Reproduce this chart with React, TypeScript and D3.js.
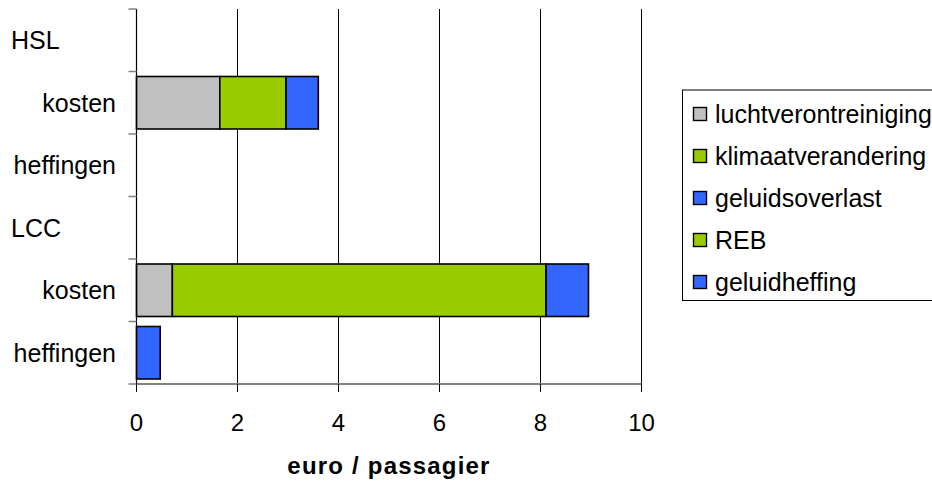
import React, { useEffect, useRef } from "react";
import * as d3 from "d3";

const rowLabels = ["HSL", "kosten", "heffingen", "LCC", "kosten", "heffingen"];
const rowIsGroup = [true, false, false, true, false, false];

const seriesNames = ["luchtverontreiniging", "klimaatverandering", "geluidsoverlast", "REB", "geluidheffing"];
const seriesColors = ["#C0C0C0", "#99CC00", "#3366FF", "#99CC00", "#3366FF"];

const luchtverontreiniging = [0, 1.65, 0, 0, 0.71, 0];
const klimaatverandering = [0, 1.31, 0, 0, 7.4, 0];
const geluidsoverlast = [0, 0.64, 0, 0, 0.84, 0];
const REB = [0, 0, 0, 0, 0, 0];
const geluidheffing = [0, 0, 0, 0, 0, 0.47];

const xTicks = [0, 2, 4, 6, 8, 10];
const xTitle = "euro / passagier";

const W = 932;
const H = 484;
const FONT = "'Liberation Sans', Arial, sans-serif";

export default function App() {
  const ref = useRef<SVGSVGElement | null>(null);

  useEffect(() => {
    const svg = d3.select(ref.current);
    svg.selectAll("*").remove();

    const left = 136.5, right = 641.5, top = 9, bottom = 384;
    const x = d3.scaleLinear().domain([0, 10]).range([left, right]);
    const rows = rowLabels.map((_, i) => i);
    const y = d3.scaleBand<number>().domain(rows).range([top, bottom]).padding(0);
    const bw = y.bandwidth();

    const table = rows.map((i) => ({
      row: i,
      luchtverontreiniging: luchtverontreiniging[i],
      klimaatverandering: klimaatverandering[i],
      geluidsoverlast: geluidsoverlast[i],
      REB: REB[i],
      geluidheffing: geluidheffing[i],
    }));
    const stacked = d3.stack<any>().keys(seriesNames)(table);

    // gridlines
    svg.append("g")
      .selectAll("line")
      .data(xTicks)
      .join("line")
      .attr("x1", (d) => x(d))
      .attr("x2", (d) => x(d))
      .attr("y1", top)
      .attr("y2", bottom + 8)
      .attr("stroke", (d) => (d === 0 ? "none" : "#000"))
      .attr("stroke-width", 1);

    // bars
    stacked.forEach((s, si) => {
      svg.append("g")
        .selectAll("rect")
        .data(s.filter((d: any) => d[1] - d[0] > 0))
        .join("rect")
        .attr("x", (d: any) => x(d[0]))
        .attr("width", (d: any) => x(d[1]) - x(d[0]))
        .attr("y", (d: any) => (y(d.data.row) as number) + bw * 0.08)
        .attr("height", bw * 0.84)
        .attr("fill", seriesColors[si])
        .attr("stroke", "#000")
        .attr("stroke-width", 1.6);
    });

    // x axis
    svg.append("line")
      .attr("x1", left).attr("x2", right)
      .attr("y1", bottom).attr("y2", bottom)
      .attr("stroke", "#808080").attr("stroke-width", 2);
    svg.append("g")
      .selectAll("line")
      .data(xTicks)
      .join("line")
      .attr("x1", (d) => x(d)).attr("x2", (d) => x(d))
      .attr("y1", bottom).attr("y2", bottom + 8)
      .attr("stroke", "#000");
    svg.append("g")
      .selectAll("text")
      .data(xTicks)
      .join("text")
      .attr("x", (d) => x(d))
      .attr("y", 431)
      .attr("text-anchor", "middle")
      .attr("font-family", FONT)
      .attr("font-size", 24)
      .text((d) => String(d));
    svg.append("text")
      .attr("x", (left + right) / 2)
      .attr("y", 474)
      .attr("text-anchor", "middle")
      .attr("font-family", FONT)
      .attr("font-size", 24)
      .attr("font-weight", "bold")
      .attr("letter-spacing", 1.2)
      .text(xTitle);

    // y axis
    svg.append("line")
      .attr("x1", left).attr("x2", left)
      .attr("y1", top).attr("y2", bottom)
      .attr("stroke", "#000").attr("stroke-width", 1.2);
    const tickYs = rows.map((i) => y(i) as number).concat([bottom]);
    svg.append("g")
      .selectAll("line")
      .data(tickYs)
      .join("line")
      .attr("x1", left - 8).attr("x2", left)
      .attr("y1", (d) => d).attr("y2", (d) => d)
      .attr("stroke", "#808080").attr("stroke-width", 1.5);
    svg.append("g")
      .selectAll("text")
      .data(rows)
      .join("text")
      .attr("x", (i) => (rowIsGroup[i] ? 11 : 116))
      .attr("y", (i) => (y(i) as number) + bw / 2 + 8.8)
      .attr("text-anchor", (i) => (rowIsGroup[i] ? "start" : "end"))
      .attr("font-family", FONT)
      .attr("font-size", 25)
      .text((i) => rowLabels[i]);

    // legend
    const lg = svg.append("g");
    lg.append("rect")
      .attr("x", 682.5).attr("y", 90)
      .attr("width", 300).attr("height", 210.5)
      .attr("fill", "#fff")
      .attr("stroke", "#000").attr("stroke-width", 1);
    const ly = d3.scalePoint<number>().domain(seriesNames.map((_, i) => i)).range([114, 282]);
    const items = lg.selectAll("g.item")
      .data(seriesNames.map((n, i) => i))
      .join("g")
      .attr("class", "item");
    items.append("rect")
      .attr("x", 693.5)
      .attr("y", (i) => (ly(i) as number) - 6.5)
      .attr("width", 13).attr("height", 13)
      .attr("fill", (i) => seriesColors[i])
      .attr("stroke", "#000").attr("stroke-width", 1.4);
    items.append("text")
      .attr("x", 715)
      .attr("y", (i) => (ly(i) as number) + 8.8)
      .attr("font-family", FONT)
      .attr("font-size", 25)
      .text((i) => seriesNames[i]);
  }, []);

  return (
    <svg
      ref={ref}
      width={W}
      height={H}
      style={{ position: "absolute", left: 0, top: 0, background: "#fff" }}
    />
  );
}
